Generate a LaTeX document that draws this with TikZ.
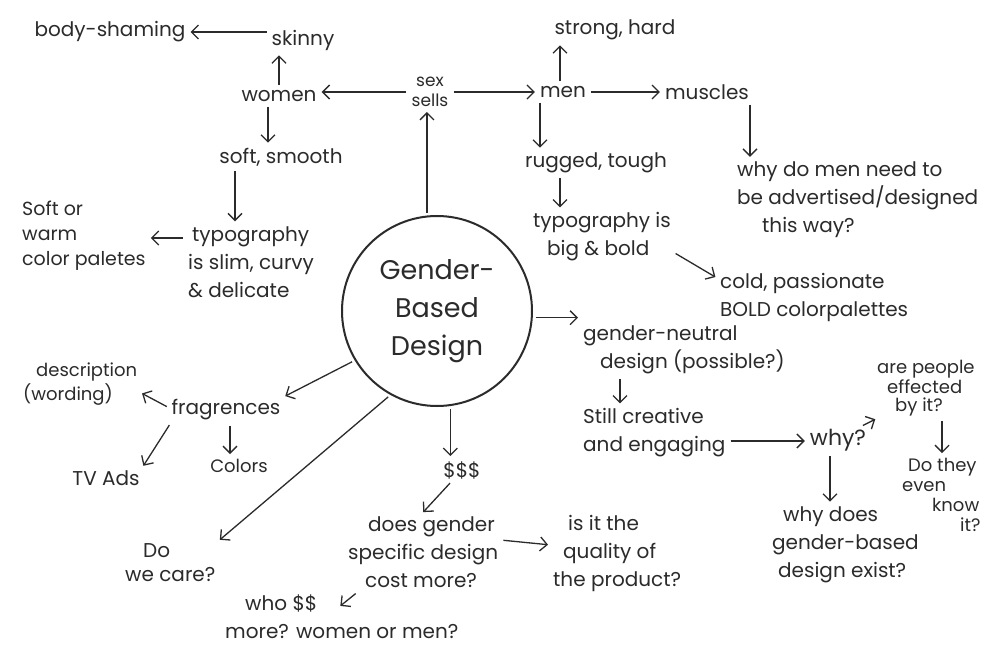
\documentclass[tikz,border=0pt]{standalone}
\usepackage{fontspec}
\setmainfont{Poppins}
\usetikzlibrary{arrows.meta,calc}
\definecolor{ink}{HTML}{2B2B2B}
\begin{document}
\begin{tikzpicture}[x=1pt,y=-1pt,
  txt/.style={font=\fontsize{20}{28}\selectfont, inner sep=2pt, text=ink, align=center},
  ltxt/.style={txt, align=left, anchor=west},
  arr/.style={draw=ink, line width=1.3pt, -{Straight Barb[length=7pt,width=14pt,line width=1.3pt]}, shorten <=3pt, shorten >=3pt},
  hub/.style={circle, draw=ink, line width=2pt, minimum size=190pt, inner sep=0pt, text=ink, align=center, font=\fontsize{27}{38}\selectfont}]
\useasboundingbox[fill=white] (0,0) rectangle (997,647);

% nodes
\node[txt] (body) at (110,32) {body-shaming};
\node[txt] (skinny) at (303,40) {skinny};
\node[txt] (women) at (279,96) {women};
\node[txt, font=\fontsize{17}{20}\selectfont] (sex) at (430,92) {sex\\sells};
\node[txt] (men) at (563,92) {men};
\node[txt] (strong) at (615,30) {strong, hard};
\node[txt] (muscles) at (707,92) {muscles};
\node[txt] (soft) at (281,157) {soft, smooth};
\node[txt] (rugged) at (596,163) {rugged, tough};
\node[ltxt] (whymen) at (735,200) {why do men need to\\be advertised/designed\\\hspace*{25pt}this way?};
\node[ltxt, font=\fontsize{19}{25}\selectfont] (warm) at (20,236) {Soft or\\warm\\color paletes};
\node[ltxt] (slim) at (186,262) {\hspace*{4pt}typography\\is slim, curvy\\\& delicate};
\node[ltxt] (big) at (531,237) {typography is\\\hspace*{14pt}big \& bold};
\node[ltxt] (cold) at (718,297) {cold, passionate\\BOLD colorpalettes};
\node[hub] (circ) at (437,311) {Gender-\\Based\\Design};
\node[ltxt] (gn) at (581,350) {gender-neutral\\\hspace*{17pt}design (possible?)};
\node[ltxt, font=\fontsize{18}{24}\selectfont] (desc) at (21,384) {\hspace*{13pt}description\\(wording)};
\node[txt] (frag) at (226,410) {fragrences};
\node[txt] (tv) at (106,478) {TV Ads};
\node[txt, font=\fontsize{18}{22}\selectfont] (colors) at (239,466) {Colors};
\node[txt] (dollar) at (462,470) {\$\$\$};
\node[ltxt] (still) at (581,433) {Still creative\\and engaging};
\node[txt, font=\fontsize{22}{28}\selectfont] (why) at (838,440) {why?};
\node[ltxt, font=\fontsize{18}{18}\selectfont] (are) at (875,388) {are people\\\hspace*{10pt}effected\\\hspace*{18pt}by it?};
\node[ltxt, font=\fontsize{18}{20}\selectfont] (dothey) at (900,495) {\hspace*{6pt}Do they\\even\\\hspace*{30pt}know\\\hspace*{58pt}it?};
\node[ltxt, font=\fontsize{20}{24}\selectfont] (care) at (123,563) {\hspace*{18pt}Do\\we care?};
\node[ltxt] (dg) at (346,552) {\hspace*{20pt}does gender\\specific design\\\hspace*{17pt}cost more?};
\node[ltxt] (qual) at (551,553) {\hspace*{15pt}is it the\\\hspace*{10pt}quality of\\the product?};
\node[ltxt] (whydoes) at (770,545) {\hspace*{11pt}why does\\gender-based\\\hspace*{6pt}design exist?};
\node[ltxt] (who) at (223,617) {\hspace*{20pt}who \$\$\\more? women or men?};

% connectors
\draw[arr] (skinny.west |- body.east) -- (body.east);
\draw[arr] (women.north) -- (women.north |- skinny.south);
\draw[arr] (sex.west) -- (sex.west -| women.east);
\draw[arr] (sex.east) -- (sex.east -| men.west);
\draw[arr] ([xshift=-3pt]men.north) -- ([xshift=-3pt]men.north |- strong.south);
\draw[arr] (men.east) -- (muscles.west);
\draw[arr] ([xshift=-23pt]men.south) -- ([xshift=-23pt]men.south |- rugged.north);
\draw[arr] ([xshift=43pt]muscles.south) -- ([xshift=43pt]muscles.south |- whymen.north);
\draw[arr] ([xshift=-11pt]women.south) -- ([xshift=-11pt]women.south |- soft.north);
\draw[arr] ([xshift=-46pt]soft.south) -- ([xshift=-46pt]soft.south |- slim.north);
\draw[arr] ([yshift=24pt]slim.west) -- ([yshift=24pt]slim.west -| warm.east);
\draw[arr] ([xshift=-36pt]rugged.south) -- ([xshift=-36pt]rugged.south |- big.north);
\draw[arr] ([yshift=-15pt]big.east) -- ([yshift=-8pt]cold.north west);
\draw[arr] (circ.96) -- (circ.96 |- sex.south);
\draw[arr] (circ.-4) -- (circ.-4 -| gn.west);
\draw[arr] (circ.211) -- (frag.north east);
\draw[arr] (circ.241) -- (care.north east);
\draw[arr] (circ.278) -- (circ.278 |- dollar.north);
\draw[arr] ([yshift=2pt]frag.west) -- ([yshift=-8pt]desc.east);
\draw[arr] ([xshift=-55pt]frag.south) -- (tv.north east);
\draw[arr] ([xshift=4pt]frag.south) -- ([xshift=4pt]frag.south |- colors.north);
\draw[arr] ([xshift=-10pt]dollar.south) -- ([xshift=-2pt]dg.north);
\draw[arr] ([yshift=12pt]dg.east) -- ([yshift=8pt]qual.west);
\draw[arr] ([xshift=12pt,yshift=-2pt]dg.south west) -- ([xshift=115pt,yshift=-15pt]who.north west);
\draw[arr] ([xshift=39pt]gn.south west) -- ([xshift=39pt]gn.south west |- still.north);
\draw[arr] ([yshift=-8pt]still.east) -- ([yshift=-8pt]still.east -| why.west);
\draw[arr] ([xshift=-8pt]why.north east) -- ([xshift=3pt]are.south west);
\draw[arr] ([xshift=-8pt]why.south) -- ([xshift=-8pt]why.south |- whydoes.north);
\draw[arr] ([xshift=67pt]are.south west) -- ([xshift=67pt]are.south west |- dothey.north);
\end{tikzpicture}
\end{document}
